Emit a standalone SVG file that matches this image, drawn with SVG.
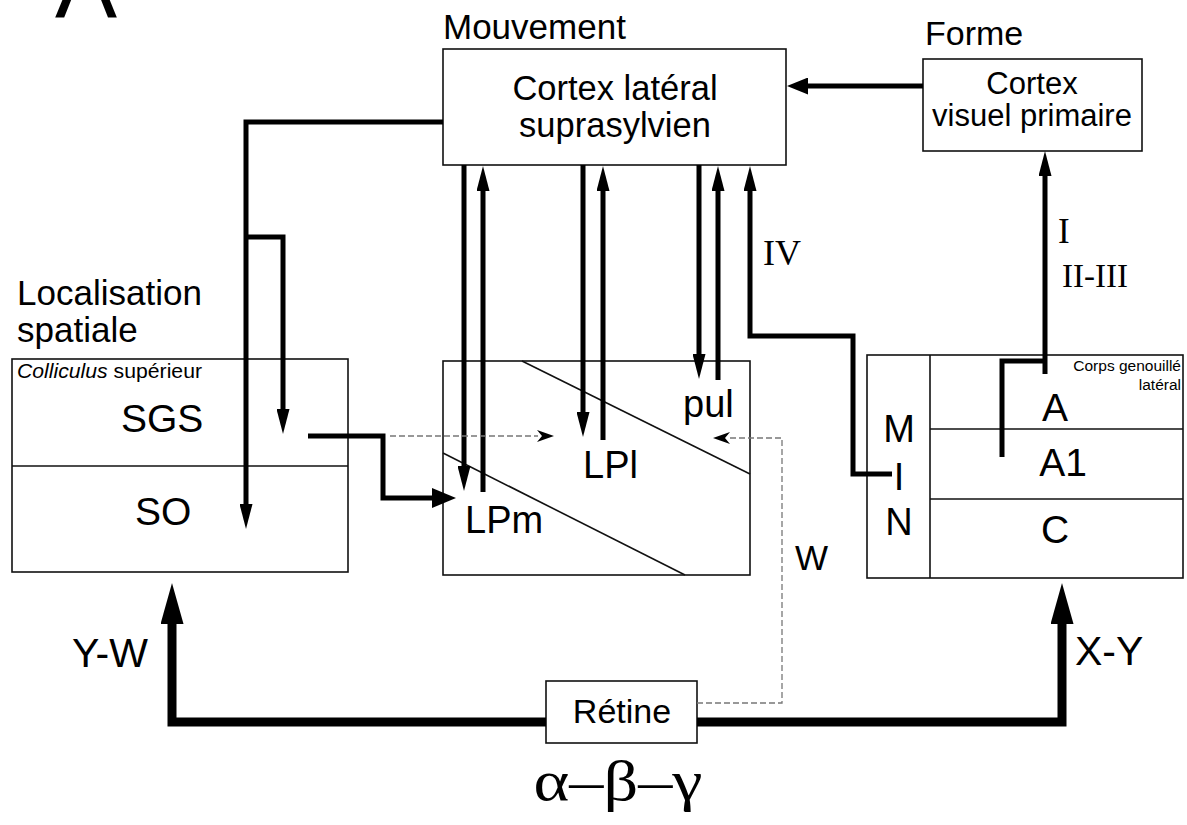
<svg xmlns="http://www.w3.org/2000/svg" width="1187" height="825" viewBox="0 0 1187 825">
<style>
.box{fill:#fff;stroke:#111;stroke-width:1.6}
.thin{fill:none;stroke:#111;stroke-width:1.6}
.sans{font-family:"Liberation Sans",Arial,sans-serif;fill:#000}
.serif{font-family:"Liberation Serif","Times New Roman",serif;fill:#000}
.c{fill:none;stroke:#000;stroke-width:5}
.cb{fill:none;stroke:#000;stroke-width:9}
.cd{fill:none;stroke:#777;stroke-width:1.3;stroke-dasharray:6 3}
</style>
<defs>
<marker id="ah" markerUnits="userSpaceOnUse" markerWidth="26" markerHeight="13" refX="1" refY="6.5" orient="auto"><path d="M0,0 L25,6.5 L0,13 z" fill="#000"/></marker>
<marker id="ahH" markerUnits="userSpaceOnUse" markerWidth="22" markerHeight="17" refX="1" refY="8.5" orient="auto"><path d="M0,0 L21,8.5 L0,17 z" fill="#000"/></marker>
<marker id="ahM" markerUnits="userSpaceOnUse" markerWidth="25" markerHeight="20" refX="1" refY="10" orient="auto"><path d="M0,0 L24,10 L0,20 z" fill="#000"/></marker>
<marker id="ahB" markerUnits="userSpaceOnUse" markerWidth="42" markerHeight="23" refX="1" refY="11.5" orient="auto"><path d="M0,0 L41,11.5 L0,23 z" fill="#000"/></marker>
<marker id="ahD" markerUnits="userSpaceOnUse" markerWidth="18" markerHeight="12" refX="1" refY="6" orient="auto"><path d="M0,0 L17,6 L0,12 L5,6 z" fill="#000"/></marker>
</defs>

<text class="sans" x="55" y="18" font-size="93">A</text>

<g id="cls">
<text class="sans" x="443" y="39" font-size="35">Mouvement</text>
<rect class="box" x="443" y="49" width="343" height="116"/>
<text class="sans" x="615" y="100" font-size="34.5" text-anchor="middle">Cortex latéral</text>
<text class="sans" x="615" y="137" font-size="34.5" text-anchor="middle">suprasylvien</text>
</g>

<g id="cvp">
<text class="sans" x="925" y="45" font-size="34">Forme</text>
<rect class="box" x="923" y="59" width="219" height="92"/>
<text class="sans" x="1032" y="94" font-size="31" text-anchor="middle">Cortex</text>
<text class="sans" x="1032" y="126" font-size="31" text-anchor="middle">visuel primaire</text>
</g>

<g id="colliculus">
<text class="sans" x="17" y="305" font-size="35">Localisation</text>
<text class="sans" x="17" y="342" font-size="35">spatiale</text>
<rect class="box" x="12" y="359" width="336" height="213"/>
<line class="thin" x1="12" y1="466" x2="348" y2="466"/>
<text class="sans" x="17" y="378" font-size="20" textLength="185" lengthAdjust="spacingAndGlyphs"><tspan font-style="italic">Colliculus</tspan> supérieur</text>
<text class="sans" x="121" y="432" font-size="39">SGS</text>
<text class="sans" x="135" y="525" font-size="39">SO</text>
</g>

<g id="lp">
<rect class="box" x="443" y="361" width="307" height="214"/>
<line class="thin" x1="522" y1="361" x2="750" y2="474"/>
<line class="thin" x1="443" y1="453" x2="685" y2="575"/>
<text class="sans" x="683" y="417" font-size="38">pul</text>
<text class="sans" x="583" y="478" font-size="38">LPl</text>
<text class="sans" x="465" y="533" font-size="38">LPm</text>
</g>

<g id="lgn">
<rect class="box" x="867" y="355" width="316" height="223"/>
<line class="thin" x1="930" y1="355" x2="930" y2="578"/>
<line class="thin" x1="930" y1="429" x2="1183" y2="429"/>
<line class="thin" x1="930" y1="499" x2="1183" y2="499"/>
<text class="sans" x="1181" y="371" font-size="15.5" text-anchor="end">Corps genouillé</text>
<text class="sans" x="1181" y="390" font-size="15.5" text-anchor="end">latéral</text>
<text class="sans" x="899" y="442" font-size="38" text-anchor="middle">M</text>
<text class="sans" x="899" y="490" font-size="38" text-anchor="middle">I</text>
<text class="sans" x="899" y="535" font-size="38" text-anchor="middle">N</text>
<text class="sans" x="1055" y="421" font-size="39" text-anchor="middle">A</text>
<text class="sans" x="1063" y="476" font-size="39" text-anchor="middle">A1</text>
<text class="sans" x="1055" y="543" font-size="39" text-anchor="middle">C</text>
</g>

<g id="retine">
<rect class="box" x="546" y="681" width="151" height="62"/>
<text class="sans" x="622" y="723" font-size="34" text-anchor="middle">Rétine</text>
<text class="serif" x="618" y="800" font-size="56" text-anchor="middle" textLength="169" lengthAdjust="spacingAndGlyphs">α–β–γ</text>
</g>

<g id="connectors">
<path class="c" d="M443,122 H246 V505" marker-end="url(#ah)"/>
<path class="c" d="M246,237 H283 V410" marker-end="url(#ah)"/>
<path class="c" d="M464,165 V467" marker-end="url(#ah)"/>
<path class="c" d="M483,492 V190" marker-end="url(#ah)"/>
<path class="c" d="M583,165 V413" marker-end="url(#ah)"/>
<path class="c" d="M603,440 V190" marker-end="url(#ah)"/>
<path class="c" d="M699,165 V355" marker-end="url(#ah)"/>
<path class="c" d="M718,380 V190" marker-end="url(#ah)"/>
<path class="c" d="M892,474 H853 V336 H750 V190" marker-end="url(#ah)"/>
<path class="c" d="M923,86 H807" marker-end="url(#ahH)"/>
<path class="c" d="M1045,374 V175" marker-end="url(#ah)"/>
<path class="c" d="M1045,361 H1002 V457"/>
<path class="c" d="M308,436 H383 V498 H433" marker-end="url(#ahM)"/>
<path class="cb" d="M546,722 H172 V623" marker-end="url(#ahB)"/>
<path class="cb" d="M697,722 H1062 V623" marker-end="url(#ahB)"/>
<path class="cd" d="M390,436 H538" marker-end="url(#ahD)"/>
<path class="cd" d="M697,703 H782 V438 H729" marker-end="url(#ahD)"/>
<text class="serif" x="763" y="265" font-size="36">IV</text>
<text class="serif" x="1058" y="243" font-size="35">I</text>
<text class="serif" x="1062" y="287" font-size="33">II-III</text>
<text class="sans" x="795" y="570" font-size="35">W</text>
<text class="sans" x="72" y="667" font-size="41">Y-W</text>
<text class="sans" x="1075" y="665" font-size="41">X-Y</text>
</g>
</svg>
